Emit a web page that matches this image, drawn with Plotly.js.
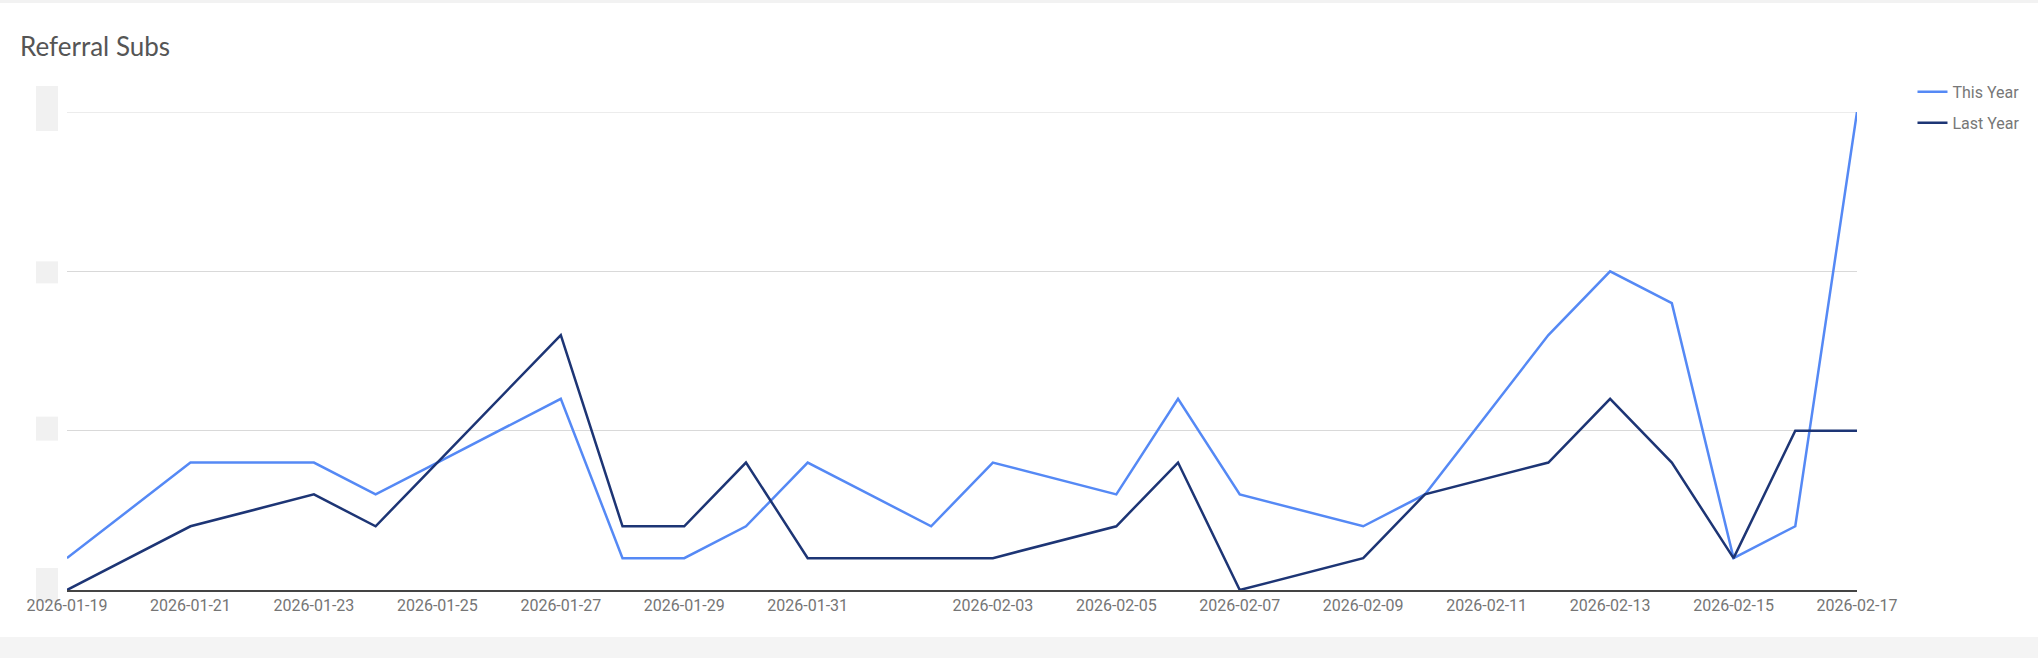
<!DOCTYPE html>
<html>
<head>
<meta charset="utf-8">
<script src="https://cdn.plot.ly/plotly-3.0.1.min.js"></script>
<style>
  body { margin: 0; background: #ffffff; }
  #topline { height: 3px; background: #f2f2f2; }
  #graph { width: 2038px; height: 634px; }
  #band { height: 21px; background: #f4f4f4; }
</style>
</head>
<body>
<div id="topline"></div>
<div id="graph"></div>
<div id="band"></div>
<script>
var dates = ['2026-01-19','2026-01-21','2026-01-23','2026-01-24','2026-01-25','2026-01-26','2026-01-27',
             '2026-01-28','2026-01-29','2026-01-30','2026-01-31','2026-02-01','2026-02-02','2026-02-03',
             '2026-02-05','2026-02-06','2026-02-07','2026-02-09','2026-02-10','2026-02-12','2026-02-13',
             '2026-02-14','2026-02-15','2026-02-16','2026-02-17'];
var thisYear = [1,4,4,3,4,5,6,1,1,2,4,3,2,4,3,6,3,2,3,8,10,9,1,2,15];
var lastYear = [0,2,3,2,4,6,8,2,2,4,1,1,1,1,2,4,0,1,3,4,6,4,1,5,5];

var tickDates = ['2026-01-19','2026-01-21','2026-01-23','2026-01-25','2026-01-27','2026-01-29','2026-01-31',
                 '2026-02-03','2026-02-05','2026-02-07','2026-02-09','2026-02-11','2026-02-13','2026-02-15','2026-02-17'];
var gridValues = [0,5,10,15];
var yMax = 15;

var thisTrace = {
    x: dates,
    y: thisYear,
    mode: 'lines',
    name: 'This Year',
    legendgroup: 'a',
    line: { color: '#5589f5', width: 2.5 }
};
var lastTrace = {
    x: dates,
    y: lastYear,
    mode: 'lines',
    name: 'Last Year',
    legendgroup: 'b',
    line: { color: '#1d3575', width: 2.5 }
};

// grey placeholder blocks where the y labels would be
function labelBox(yv, lo, hi) {
    return {
        type: 'rect', layer: 'below',
        xref: 'paper', xsizemode: 'pixel', xanchor: 0, x0: -31, x1: -9,
        yref: 'paper', ysizemode: 'pixel', yanchor: yv / yMax, y0: lo, y1: hi,
        fillcolor: '#f1f1f1', line: { width: 0 }
    };
}

var layout = {
    width: 2038,
    height: 634,
    margin: { l: 67, r: 179, t: 109, b: 47 },
    paper_bgcolor: '#ffffff',
    plot_bgcolor: '#ffffff',
    font: { family: 'Roboto, sans-serif', color: '#757575', size: 16 },
    title: {
        text: 'Referral Subs',
        font: { family: 'Lato, sans-serif', size: 26, color: '#555555' },
        xref: 'container', x: 20 / 2038, xanchor: 'left',
        yref: 'container', y: 1 - 44 / 634, yanchor: 'middle'
    },
    showlegend: true,
    legend: {
        x: 1.031, xanchor: 'left',
        y: 1.0775, yanchor: 'top',
        itemwidth: 30,
        tracegroupgap: 7,
        font: { size: 16, color: '#777777' },
        bgcolor: 'rgba(0,0,0,0)'
    },
    xaxis: {
        type: 'date',
        range: ['2026-01-19', '2026-02-17'],
        tickmode: 'array',
        tickvals: tickDates,
        ticktext: tickDates,
        showgrid: false,
        zeroline: false,
        showline: true,
        linecolor: '#444444',
        linewidth: 1.5,
        ticks: '',
        tickfont: { size: 16, color: '#757575' }
    },
    yaxis: {
        range: [0, yMax],
        tickmode: 'array',
        tickvals: gridValues,
        showticklabels: false,
        showgrid: true,
        gridcolor: '#d9d9d9',
        gridwidth: 1,
        zeroline: false,
        showline: false,
        ticks: ''
    },
    shapes: [
        // top grid line sits on the range edge, which plotly skips
        { type: 'line', layer: 'below', xref: 'paper', x0: 0, x1: 1, yref: 'y', y0: yMax, y1: yMax,
          line: { color: '#d9d9d9', width: 1 } },
        labelBox(15, -19, 26),
        labelBox(10, -12, 10),
        labelBox(5, -10, 14),
        labelBox(0, -12, 22)
    ]
};

Plotly.newPlot('graph', [thisTrace, lastTrace], layout, { displayModeBar: false, staticPlot: true });
</script>
</body>
</html>
